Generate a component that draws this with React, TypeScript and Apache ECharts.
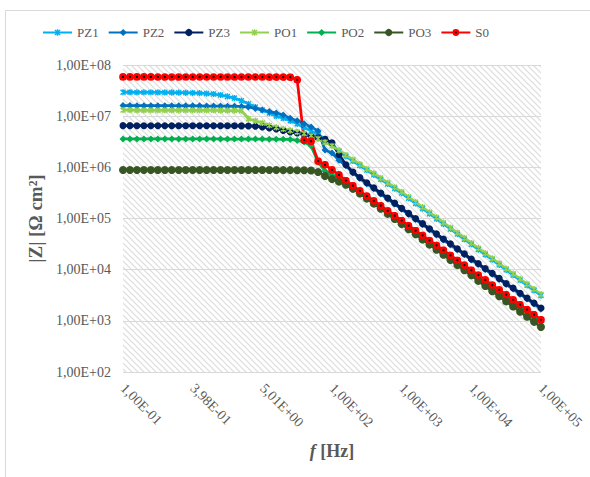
import React, { useEffect, useRef } from "react";
import * as echarts from "echarts";

// x tick labels (one every 10 measurement points)
const tickLabels = ["1,00E-01", "3,98E-01", "5,01E+00", "1,00E+02", "1,00E+03", "1,00E+04", "1,00E+05"];
const pointsPerLabel = 10;

// |Z| values (Ω cm²), 61 frequencies from 0.1 Hz to 100 kHz
const PZ1 = [
  2.93e7, 2.93e7, 2.92e7, 2.92e7, 2.92e7, 2.91e7, 2.91e7, 2.9e7, 2.89e7, 2.87e7,
  2.85e7, 2.82e7, 2.77e7, 2.71e7, 2.59e7, 2.43e7, 2.26e7, 2.0e7, 1.74e7, 1.51e7,
  1.32e7, 1.15e7, 1.0e7, 9.12e6, 8.13e6, 7.08e6, 6.03e6, 5.13e6, 4.37e6, 3.63e6,
  2.88e6, 2.04e6, 1.64e6, 1.33e6, 1.08e6, 8.81e5, 7.16e5, 5.82e5, 4.73e5, 3.85e5,
  3.13e5, 2.48e5, 1.97e5, 1.57e5, 1.24e5, 9.89e4, 7.85e4, 6.24e4, 4.95e4, 3.94e4,
  3.13e4, 2.48e4, 1.97e4, 1.57e4, 1.24e4, 9.89e3, 7.85e3, 6.24e3, 4.95e3, 3.94e3,
  3.13e3,
];
const PZ2 = [
  1.61e7, 1.61e7, 1.6e7, 1.6e7, 1.6e7, 1.6e7, 1.6e7, 1.6e7, 1.59e7, 1.59e7,
  1.59e7, 1.59e7, 1.58e7, 1.58e7, 1.58e7, 1.57e7, 1.56e7, 1.55e7, 1.51e7, 1.41e7,
  1.32e7, 1.23e7, 1.15e7, 1.05e7, 9.12e6, 8.13e6, 7.08e6, 6.17e6, 5.13e6, 2.19e6,
  1.91e6, 1.38e6, 1.07e6, 7.76e5, 6.03e5, 4.79e5, 3.8e5, 3.02e5, 2.4e5, 1.91e5,
  1.51e5, 1.2e5, 9.55e4, 7.59e4, 6.03e4, 4.79e4, 3.8e4, 3.05e4, 2.45e4, 1.95e4,
  1.55e4, 1.26e4, 1.0e4, 8.13e3, 6.46e3, 5.13e3, 4.17e3, 3.31e3, 2.66e3, 2.14e3,
  1.7e3,
];
const PZ3 = [
  6.53e6, 6.53e6, 6.52e6, 6.52e6, 6.52e6, 6.52e6, 6.52e6, 6.51e6, 6.51e6, 6.51e6,
  6.51e6, 6.5e6, 6.5e6, 6.5e6, 6.49e6, 6.49e6, 6.48e6, 6.46e6, 6.43e6, 6.37e6,
  6.17e6, 5.89e6, 5.62e6, 5.25e6, 4.9e6, 4.68e6, 4.37e6, 4.07e6, 3.8e6, 3.55e6,
  3.02e6, 1.78e6, 1.12e6, 8.13e5, 6.31e5, 5.01e5, 3.98e5, 3.16e5, 2.51e5, 2.0e5,
  1.58e5, 1.26e5, 1.0e5, 7.94e4, 6.31e4, 5.01e4, 3.98e4, 3.2e4, 2.57e4, 2.04e4,
  1.62e4, 1.32e4, 1.05e4, 8.51e3, 6.76e3, 5.37e3, 4.37e3, 3.47e3, 2.79e3, 2.24e3,
  1.78e3,
];
const PO1 = [
  1.31e7, 1.31e7, 1.3e7, 1.3e7, 1.3e7, 1.3e7, 1.3e7, 1.3e7, 1.3e7, 1.3e7,
  1.3e7, 1.3e7, 1.3e7, 1.3e7, 1.29e7, 1.29e7, 1.29e7, 1.28e7, 8.91e6, 8.05e6,
  7.36e6, 6.61e6, 6.03e6, 5.62e6, 5.25e6, 4.9e6, 4.57e6, 4.17e6, 3.63e6, 3.09e6,
  2.63e6, 2.14e6, 1.74e6, 1.41e6, 1.15e6, 9.33e5, 7.59e5, 6.17e5, 5.01e5, 4.07e5,
  3.31e5, 2.63e5, 2.09e5, 1.66e5, 1.32e5, 1.05e5, 8.32e4, 6.61e4, 5.25e4, 4.17e4,
  3.31e4, 2.63e4, 2.09e4, 1.66e4, 1.32e4, 1.05e4, 8.32e3, 6.61e3, 5.25e3, 4.17e3,
  3.31e3,
];
const PO2 = [
  3.59e6, 3.59e6, 3.58e6, 3.58e6, 3.58e6, 3.58e6, 3.58e6, 3.58e6, 3.58e6, 3.58e6,
  3.58e6, 3.58e6, 3.58e6, 3.58e6, 3.58e6, 3.57e6, 3.57e6, 3.57e6, 3.57e6, 3.56e6,
  3.56e6, 3.55e6, 3.54e6, 3.53e6, 3.51e6, 3.35e6, 3.13e6, 2.63e6, 1.26e6, 8.51e5,
  7.08e5, 5.89e5, 4.9e5, 3.98e5, 3.16e5, 2.51e5, 2.02e5, 1.62e5, 1.29e5, 1.035e5,
  8.32e4, 6.61e4, 5.31e4, 4.27e4, 3.39e4, 2.72e4, 2.19e4, 1.74e4, 1.4e4, 1.12e4,
  8.91e3, 7.08e3, 5.69e3, 4.52e3, 3.63e3, 2.88e3, 2.32e3, 1.84e3, 1.48e3, 1.17e3,
  9.33e2,
];
const PO3 = [
  8.88e5, 8.88e5, 8.87e5, 8.87e5, 8.87e5, 8.87e5, 8.87e5, 8.87e5, 8.87e5, 8.87e5,
  8.87e5, 8.87e5, 8.87e5, 8.87e5, 8.87e5, 8.87e5, 8.86e5, 8.86e5, 8.86e5, 8.86e5,
  8.85e5, 8.85e5, 8.84e5, 8.83e5, 8.82e5, 8.8e5, 8.76e5, 8.7e5, 8.13e5, 6.76e5,
  5.89e5, 5.25e5, 4.57e5, 3.8e5, 3.09e5, 2.45e5, 1.95e5, 1.55e5, 1.23e5, 9.77e4,
  7.76e4, 6.17e4, 4.9e4, 3.89e4, 3.09e4, 2.45e4, 1.95e4, 1.55e4, 1.23e4, 9.77e3,
  7.76e3, 6.03e3, 4.79e3, 3.8e3, 3.02e3, 2.4e3, 1.91e3, 1.51e3, 1.2e3, 9.55e2,
  7.59e2,
];
const S0 = [
  5.85e7, 5.85e7, 5.84e7, 5.84e7, 5.84e7, 5.83e7, 5.83e7, 5.83e7, 5.83e7, 5.83e7,
  5.83e7, 5.83e7, 5.83e7, 5.83e7, 5.83e7, 5.83e7, 5.82e7, 5.82e7, 5.82e7, 5.82e7,
  5.82e7, 5.81e7, 5.81e7, 5.8e7, 5.79e7, 5.13e7, 3.39e6, 3.24e6, 1.32e6, 1.12e6,
  8.9e5, 7.1e5, 5.5e5, 4.37e5, 3.47e5, 2.75e5, 2.21e5, 1.78e5, 1.41e5, 1.135e5,
  9.12e4, 7.24e4, 5.82e4, 4.68e4, 3.72e4, 2.99e4, 2.4e4, 1.91e4, 1.53e4, 1.23e4,
  9.77e3, 7.85e3, 6.31e3, 5.01e3, 4.03e3, 3.24e3, 2.57e3, 2.07e3, 1.66e3, 1.32e3,
  1.05e3,
];

const seriesNames = ["PZ1", "PZ2", "PZ3", "PO1", "PO2", "PO3", "S0"];
const seriesData = [PZ1, PZ2, PZ3, PO1, PO2, PO3, S0];
const seriesColors = ["#00B0F0", "#0070C0", "#002060", "#92D050", "#00B050", "#375623", "#FF0000"];

const svgUri = (s: string) => "data:image/svg+xml;charset=utf-8," + encodeURIComponent(s);

const starSymbol = (c: string) =>
  "image://" +
  svgUri(
    `<svg xmlns="http://www.w3.org/2000/svg" width="10" height="10"><path d="M1.5 1.5L8.5 8.5M8.5 1.5L1.5 8.5M5 0.5V9.5" stroke="${c}" stroke-width="2" fill="none"/></svg>`
  );
const redSymbol =
  "image://" +
  svgUri(
    `<svg xmlns="http://www.w3.org/2000/svg" width="10" height="10"><circle cx="5" cy="5" r="4.8" fill="#FF0000"/><circle cx="5" cy="5" r="1.4" fill="#000000"/></svg>`
  );

const seriesSymbols = [
  starSymbol("#00B0F0"),
  "diamond",
  "circle",
  starSymbol("#92D050"),
  "diamond",
  "circle",
  redSymbol,
];
const seriesSymbolSizes = [7, 7, 7, 7, 7, 8, 8];

const hatch = svgUri(
  `<svg xmlns="http://www.w3.org/2000/svg" width="6" height="6"><rect width="6" height="6" fill="#ffffff"/><path d="M-1 -1L7 7M-1 5L1 7M5 -1L7 1" stroke="#dcdcdc" stroke-width="1.2"/></svg>`
);

const FONT = "'Liberation Serif', 'Times New Roman', serif";
const TXT = "#595959";

function fmtPow(v: number) {
  const e = Math.round(Math.log10(v));
  const sign = e < 0 ? "-" : "+";
  const a = Math.abs(e);
  return "1,00E" + sign + (a < 10 ? "0" + a : String(a));
}

export default function App() {
  const ref = useRef<HTMLDivElement>(null);
  useEffect(() => {
    document.body.style.margin = "0";
    if (!ref.current) return;
    const chart = echarts.init(ref.current, null, { renderer: "svg" });
    const categories = seriesData[0].map((_, i) =>
      i % pointsPerLabel === 0 ? tickLabels[i / pointsPerLabel] : ""
    );
    chart.setOption({
      animation: false,
      backgroundColor: "#ffffff",
      graphic: [
        {
          type: "rect",
          shape: { x: 5.5, y: 10.5, width: 700, height: 600 },
          style: { fill: "none", stroke: "#d9d9d9", lineWidth: 1 },
          silent: true,
        },
      ],
      legend: {
        top: 21,
        left: 37,
        itemWidth: 29,
        itemHeight: 9,
        itemGap: 9,
        data: seriesNames,
        textStyle: { color: TXT, fontSize: 13, fontFamily: FONT },
      },
      grid: {
        left: 123,
        right: 49,
        top: 65,
        bottom: 105,
        show: true,
        borderWidth: 0,
        backgroundColor: { image: hatch, repeat: "repeat", imageWidth: 6, imageHeight: 6 } as any,
      },
      xAxis: {
        type: "category",
        data: categories,
        boundaryGap: false,
        axisLine: { show: false },
        axisTick: { show: false },
        axisLabel: {
          interval: pointsPerLabel - 1,
          rotate: -45,
          color: TXT,
          fontSize: 14,
          fontFamily: FONT,
          margin: 14,
        },
        name: "{i|f} [Hz]",
        nameLocation: "middle",
        nameGap: 70,
        nameTextStyle: {
          color: TXT,
          fontSize: 18,
          fontWeight: "bold",
          fontFamily: FONT,
          rich: {
            i: { fontStyle: "italic", fontWeight: "bold", fontSize: 18, color: TXT, fontFamily: FONT },
          },
        },
      },
      yAxis: {
        type: "log",
        logBase: 10,
        min: 100,
        max: 1e8,
        axisLine: { show: false },
        axisTick: { show: false },
        splitLine: { show: true, lineStyle: { color: "#d9d9d9", width: 1 } },
        axisLabel: {
          formatter: (v: number) => fmtPow(v),
          color: TXT,
          fontSize: 14,
          fontFamily: FONT,
          margin: 12,
        },
        name: "|Z| [Ω cm²]",
        nameLocation: "middle",
        nameGap: 78,
        nameTextStyle: { color: TXT, fontSize: 19, fontWeight: "bold", fontFamily: FONT },
      },
      series: seriesNames.map((name, k) => ({
        name,
        type: "line",
        data: seriesData[k],
        symbol: seriesSymbols[k],
        symbolSize: seriesSymbolSizes[k],
        showSymbol: true,
        showAllSymbol: true,
        color: seriesColors[k],
        lineStyle: { width: 2.75, color: seriesColors[k] },
        itemStyle: { color: seriesColors[k] },
      })),
    });
    return () => chart.dispose();
  }, []);
  return <div ref={ref} style={{ width: 590, height: 477 }} />;
}
